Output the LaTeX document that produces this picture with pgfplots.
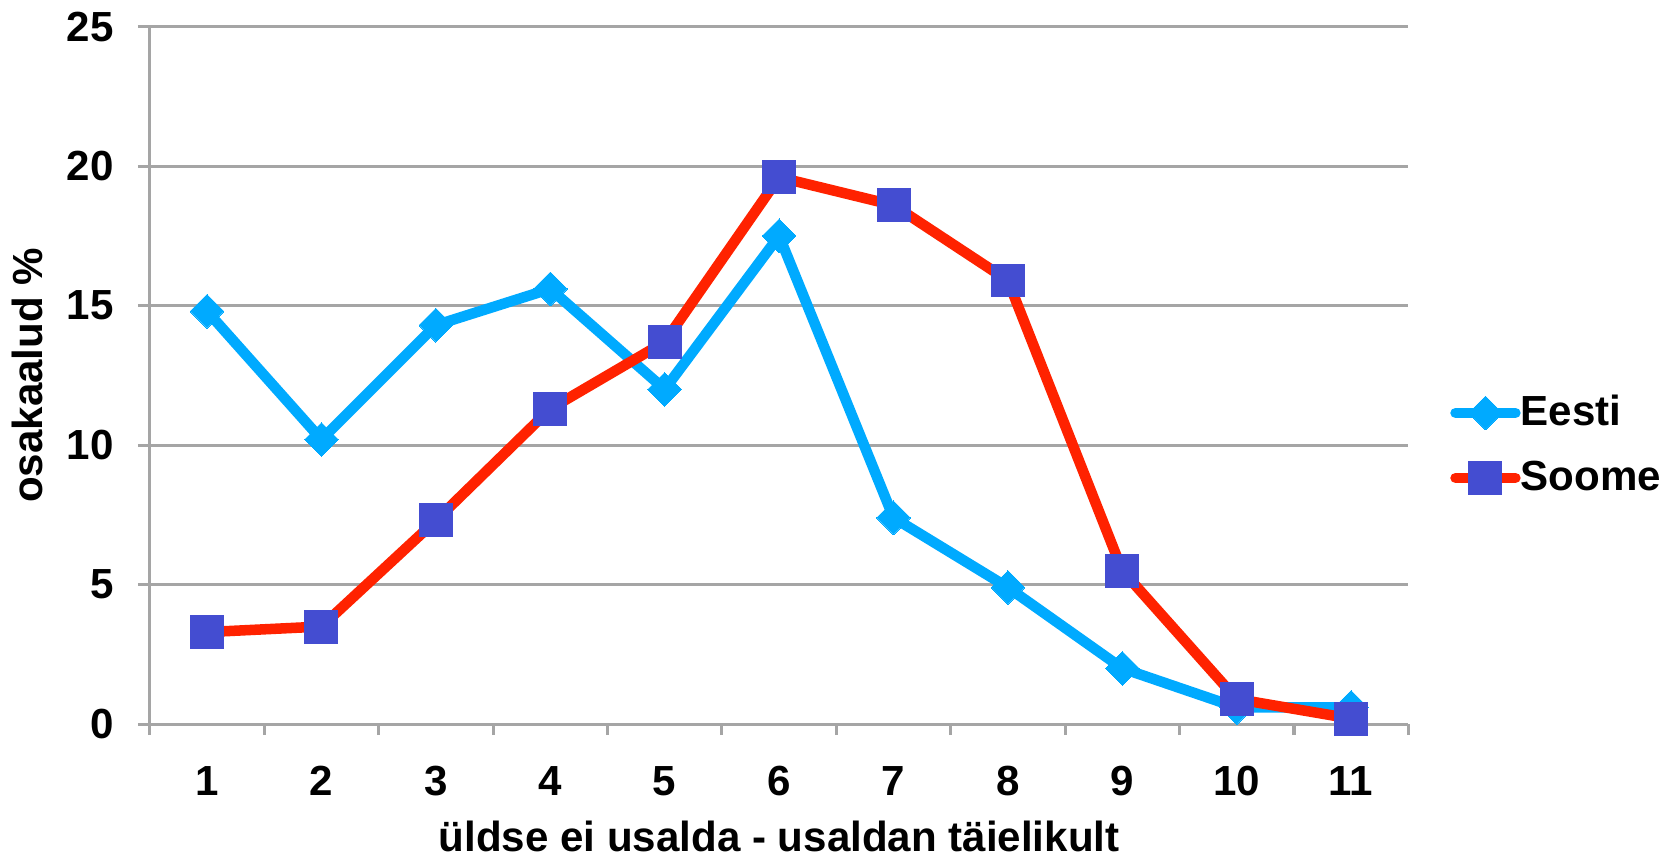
\documentclass[border=0pt]{standalone}
\usepackage{fontspec}
\setmainfont{Liberation Sans}
\usepackage{pgfplots}
\pgfplotsset{compat=1.18}
\definecolor{eestiBlue}{RGB}{0,170,255}
\definecolor{soomeRed}{RGB}{255,34,0}
\definecolor{soomeMark}{RGB}{68,77,209}
\definecolor{gridGray}{RGB}{165,165,165}

\begin{document}
\begin{tikzpicture}
  \begin{axis}[
      name=ax,
      scale only axis,
      width=12.61cm, height=6.99cm,
      xmin=0.5, xmax=11.5, ymin=0, ymax=25,
      axis x line=bottom, axis y line=left,
      axis line style={draw=gridGray, line width=0.9pt, -},
      xtick={1,...,11}, ytick={0,5,...,25},
      minor xtick={0.5,1.5,...,11.5},
      major x tick style={draw=none},
      tick align=outside,
      major tick length=0.12cm, minor tick length=0.11cm,
      tick style={draw=gridGray, line width=0.9pt},
      ymajorgrids,
      grid style={draw=gridGray, line width=0.9pt},
      ticklabel style={font=\bfseries\fontsize{12}{14}\selectfont},
      xticklabel style={yshift=-0.18cm},
      yticklabel style={xshift=-0.12cm},
      /pgf/number format/assume math mode=true,
      label style={font=\bfseries\fontsize{12}{14}\selectfont},
      xlabel={üldse ei usalda - usaldan täielikult},
      xlabel style={at={(axis description cs:0.5,0)}, anchor=base, yshift=-1.28cm, inner sep=0pt},
      ylabel={osakaalud \%},
      legend style={at={(1,0.4)}, anchor=west, xshift=0.42cm, draw=none, fill=none,
        inner sep=0pt, outer sep=0pt, nodes={inner sep=0pt},
        font=\bfseries\fontsize{12}{14}\selectfont, row sep=8.5pt},
      legend cell align=left,
    ]
    \addplot[color=eestiBlue, line width=3pt, line join=round, line cap=round,
      mark=square*, mark size=3.4pt, mark options={rotate=45, fill=eestiBlue, draw=eestiBlue, line width=0pt}]
      coordinates {
        (1,14.8) (2,10.2) (3,14.3) (4,15.6) (5,12.0) (6,17.5)
        (7,7.4) (8,4.9) (9,2.0) (10,0.6) (11,0.6)
      };
    \addlegendentry{Eesti}
    \addplot[color=soomeRed, line width=3pt, line join=round, line cap=round,
      mark=square*, mark size=4.7pt, mark options={fill=soomeMark, draw=soomeMark, line width=0pt}]
      coordinates {
        (1,3.3) (2,3.5) (3,7.3) (4,11.3) (5,13.7) (6,19.6)
        (7,18.6) (8,15.9) (9,5.5) (10,0.9) (11,0.2)
      };
    \addlegendentry{Soome}
  \end{axis}
  \path (ax.south west) ++(-1.49cm,-1.33cm) rectangle ([xshift=2.51cm, yshift=0.26cm]ax.north east);
\end{tikzpicture}
\end{document}
